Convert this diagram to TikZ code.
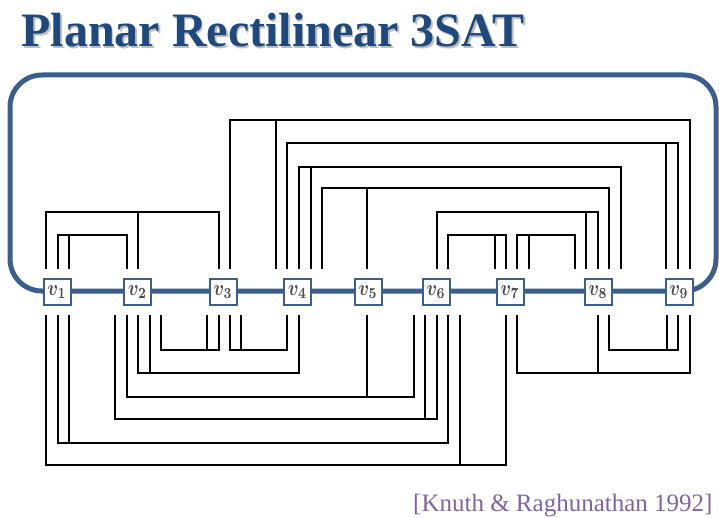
\documentclass[tikz,border=0pt]{standalone}
\usepackage{fontspec}
\usepackage{amsmath}
\usepackage{graphicx}
\setmainfont{Liberation Serif}
\definecolor{loopblue}{RGB}{59,94,140}
\definecolor{titleblue}{RGB}{31,73,125}
\definecolor{refpurple}{RGB}{128,100,162}
\definecolor{labelgray}{RGB}{75,75,75}
\newcommand{\vlab}[1]{\scalebox{1.75}[2.2]{$\boldsymbol{v_{#1}}$}}
\begin{document}
\begin{tikzpicture}[x=1pt,y=-1pt,
  wire/.style={line width=1.3pt, black},
  varbox/.style={draw=loopblue, line width=2pt, fill=white, minimum width=27pt, minimum height=26pt, inner sep=0pt, text=labelgray},
  loopline/.style={draw=loopblue, line width=5pt, rounded corners=32pt}]
\useasboundingbox (0,0) rectangle (719,518);
% title
\node[anchor=base west, font=\fontsize{48}{54}\selectfont\bfseries, text=black!25] (titleshadow) at (19.5,48.5) {Planar Rectilinear 3SAT};
\node[anchor=base west, font=\fontsize{48}{54}\selectfont\bfseries, text=titleblue] (title) at (18,47) {Planar Rectilinear 3SAT};
% loop
\draw[loopline] (10,75) rectangle (716,291);
% top clauses
\draw[wire] (46,269) |- (219,212) -- (219,269); \draw[wire] (138,212) -- (138,269);
\draw[wire] (58,269) |- (127,235) -- (127,269); \draw[wire] (69,235) -- (69,269);
\draw[wire] (230,269) |- (690,120) -- (690,269); \draw[wire] (276,120) -- (276,269);
\draw[wire] (287,269) |- (678,143) -- (678,269); \draw[wire] (666,143) -- (666,269);
\draw[wire] (299,269) |- (621,167) -- (621,269); \draw[wire] (311,167) -- (311,269);
\draw[wire] (322,269) |- (609,188) -- (609,269); \draw[wire] (367,188) -- (367,269);
\draw[wire] (437,269) |- (598,212) -- (598,269); \draw[wire] (586,212) -- (586,269);
\draw[wire] (448,269) |- (506,235) -- (506,269); \draw[wire] (495,235) -- (495,269);
\draw[wire] (517,269) |- (575,235) -- (575,269); \draw[wire] (529,235) -- (529,269);
% bottom clauses
\draw[wire] (161,315) |- (219,350) -- (219,315); \draw[wire] (207,350) -- (207,315);
\draw[wire] (230,315) |- (287,350) -- (287,315); \draw[wire] (241,350) -- (241,315);
\draw[wire] (138,315) |- (299,373) -- (299,315); \draw[wire] (150,373) -- (150,315);
\draw[wire] (127,315) |- (414,397) -- (414,315); \draw[wire] (367,397) -- (367,315);
\draw[wire] (115,315) |- (437,419) -- (437,315); \draw[wire] (425,419) -- (425,315);
\draw[wire] (58,315) |- (448,443) -- (448,315); \draw[wire] (69,443) -- (69,315);
\draw[wire] (46,315) |- (506,465) -- (506,315); \draw[wire] (460,465) -- (460,315);
\draw[wire] (517,315) |- (690,373) -- (690,315); \draw[wire] (598,373) -- (598,315);
\draw[wire] (609,315) |- (678,350) -- (678,315); \draw[wire] (667,350) -- (667,315);
% variables
\node[varbox] (v1) at (57,292) {\vlab{1}};
\node[varbox] (v2) at (137.5,292) {\vlab{2}};
\node[varbox] (v3) at (223,292) {\vlab{3}};
\node[varbox] (v4) at (297.5,292) {\vlab{4}};
\node[varbox] (v5) at (368,292) {\vlab{5}};
\node[varbox] (v6) at (436,292) {\vlab{6}};
\node[varbox] (v7) at (510,292) {\vlab{7}};
\node[varbox] (v8) at (598,292) {\vlab{8}};
\node[varbox] (v9) at (679,292) {\vlab{9}};
% reference
\node[anchor=base east, font=\fontsize{25}{30}\selectfont, text=refpurple] (ref) at (716,511) {[Knuth \& Raghunathan 1992]};
\end{tikzpicture}
\end{document}
